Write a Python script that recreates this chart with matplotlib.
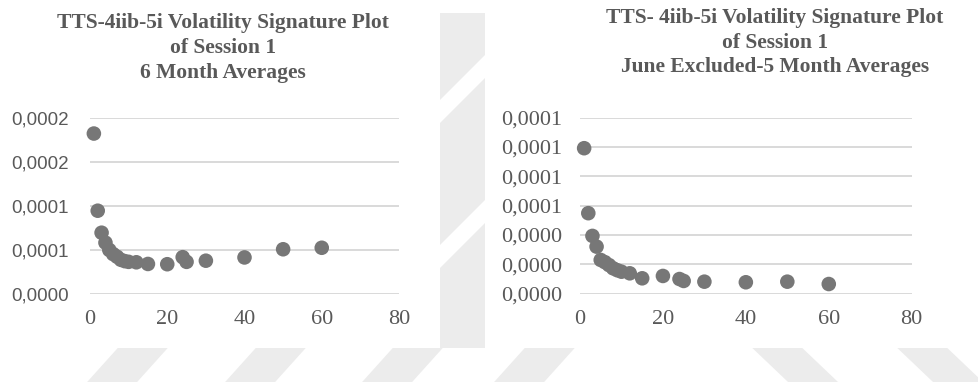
import matplotlib
matplotlib.use("Agg")
import matplotlib.pyplot as plt
from matplotlib.patches import Polygon, Rectangle
from matplotlib.ticker import FixedLocator, FixedFormatter

# ---------------- data ----------------
intervals = [1, 2, 3, 4, 5, 6, 7, 8, 9, 10, 12, 15, 20, 24, 25, 30, 40, 50, 60]
vol_6m = [18.2e-5, 9.43e-5, 6.93e-5, 5.8e-5, 4.97e-5, 4.5e-5, 4.2e-5, 3.85e-5, 3.7e-5,
          3.62e-5, 3.57e-5, 3.38e-5, 3.35e-5, 4.15e-5, 3.62e-5, 3.75e-5, 4.12e-5,
          5.05e-5, 5.22e-5]
vol_5m = [9.92e-5, 5.49e-5, 3.94e-5, 3.21e-5, 2.3e-5, 2.15e-5, 1.95e-5, 1.73e-5, 1.6e-5,
          1.5e-5, 1.39e-5, 1.05e-5, 1.21e-5, 1.0e-5, 0.87e-5, 0.82e-5, 0.78e-5,
          0.82e-5, 0.66e-5]

x_ticks = [0, 20, 40, 60, 80]
left_yticks = [0, 0.00005, 0.0001, 0.00015, 0.0002]
left_yticklabels = ["0,0000", "0,0001", "0,0001", "0,0002", "0,0002"]
right_yticks = [0, 0.00002, 0.00004, 0.00006, 0.00008, 0.0001, 0.00012]
right_yticklabels = ["0,0000", "0,0000", "0,0000", "0,0001", "0,0001", "0,0001", "0,0001"]

left_title = ["TTS-4iib-5i Volatility Signature Plot", "of Session 1", "6 Month Averages"]
right_title = ["TTS- 4iib-5i Volatility Signature Plot", "of Session 1",
               "June Excluded-5 Month Averages"]

# ---------------- layout ----------------
W, H = 979, 382
fig = plt.figure(figsize=(W / 100, H / 100), dpi=100)

def fx(x):
    return x / W

def fy(y):
    return 1 - y / H

def poly(pts, color, z):
    fig.add_artist(Polygon([(fx(a), fy(b)) for a, b in pts], closed=True,
                           transform=fig.transFigure, facecolor=color, edgecolor="none",
                           zorder=z))

# watermark (decorative background)
wm = "#ececec"
for L in [118, 256, 393, 525]:
    poly([(L - 0.9 * (13 - 347.7) * -1 + 0, 13) if False else (L + 0.9 * (347.7 - 13), 13),
          (L + 50 + 0.9 * (347.7 - 13), 13),
          (L + 50 - 0.9 * 34.3, 382), (L - 0.9 * 34.3, 382)], wm, -4)
for L in [752, 897]:
    poly([(L, 347.7), (L + 50, 347.7), (L + 50 + 1.05 * 34.3, 382), (L + 1.05 * 34.3, 382)],
         wm, -4)
# gap between the two charts: grey with thin white diagonal cuts
poly([(440, 13), (485, 13), (485, 347.7), (440, 347.7)], wm, -4)
for yl in [100, 245]:
    poly([(440, yl), (485, yl - 45), (485, yl - 22), (440, yl + 23)], "white", -3)

# white chart areas
for x0, x1 in [(0, 440), (485, 979)]:
    fig.add_artist(Rectangle((fx(x0), fy(347.7)), fx(x1 - x0), 347.7 / H,
                             transform=fig.transFigure, facecolor="white",
                             edgecolor="none", zorder=-2))

text_col = "#595959"
grid_col = "#d9d9d9"
marker_col = "#777777"

bottom = 1 - 293.7 / H
height = (293.7 - 117.7) / H
axL = fig.add_axes([90 / W, bottom, (399 - 90) / W, height])
axR = fig.add_axes([580 / W, bottom, (911.7 - 580) / W, height])

def style(ax, yt, ytl, ymax, yfont, yfam, ypad):
    ax.set_facecolor("none")
    ax.set_xlim(0, 80)
    ax.set_ylim(0, ymax)
    for s in ax.spines.values():
        s.set_visible(False)
    ax.xaxis.set_major_locator(FixedLocator(x_ticks))
    ax.set_xticklabels([str(t) for t in x_ticks], family="Liberation Serif",
                       fontsize=16, color=text_col)
    ax.yaxis.set_major_locator(FixedLocator(yt))
    ax.yaxis.set_major_formatter(FixedFormatter(ytl))
    for lbl in ax.get_yticklabels():
        lbl.set_family(yfam)
        lbl.set_fontsize(yfont)
        lbl.set_color(text_col)
    ax.tick_params(length=0)
    ax.tick_params(axis="y", pad=ypad)
    ax.tick_params(axis="x", pad=12)
    ax.grid(axis="y", color=grid_col, linewidth=1.4)
    ax.set_axisbelow(True)

style(axL, left_yticks, left_yticklabels, 0.0002, 13.5, "Liberation Sans", 15.5)
style(axR, right_yticks, right_yticklabels, 0.00012, 16, "Liberation Serif", 13)

axL.scatter(intervals, vol_6m, s=110, color=marker_col, edgecolors="none", zorder=3,
            clip_on=False)
axR.scatter(intervals, vol_5m, s=110, color=marker_col, edgecolors="none", zorder=3,
            clip_on=False)

for lines, cx, ys in [(left_title, 223, [23, 48, 73]), (right_title, 775, [18, 43, 67])]:
    for t, y in zip(lines, ys):
        fig.text(fx(cx), fy(y), t, ha="center", va="center", family="Liberation Serif",
                 fontweight="bold", fontsize=15.5, color=text_col)

fig.savefig("out.png", dpi=100)
